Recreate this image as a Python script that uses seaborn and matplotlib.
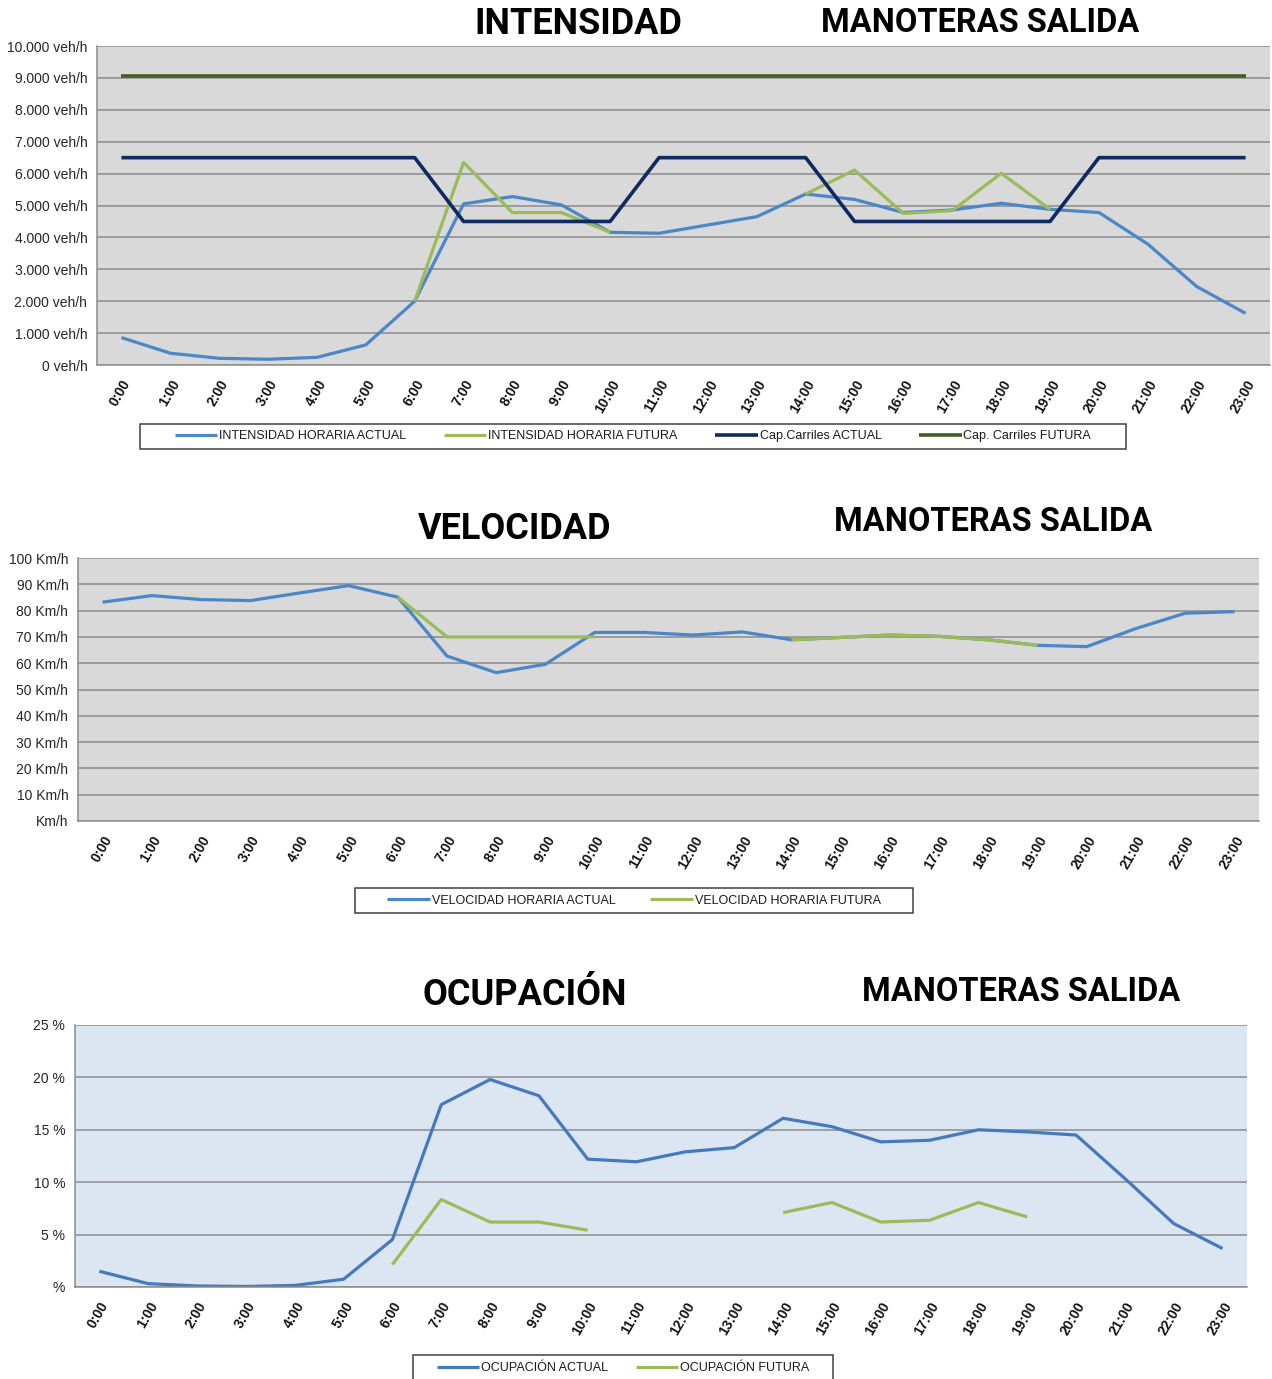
import numpy as np
import pandas as pd
import matplotlib
matplotlib.use('Agg')
import matplotlib.pyplot as plt
import seaborn as sns
from matplotlib import font_manager
from matplotlib.patches import Rectangle
from matplotlib.ticker import FixedLocator, FuncFormatter

# ---- datos ----
horas = [f"{h}:00" for h in range(24)]

intensidad_actual = [860, 370, 210, 180, 240, 630, 2000, 5050, 5280, 5020, 4160, 4130,
                     4390, 4650, 5360, 5190, 4780, 4860, 5070, 4880, 4780, 3790, 2460, 1620]
intensidad_futura = [np.nan] * 6 + [2000, 6350, 4780, 4780, 4160] + [np.nan] * 3 + \
                    [5360, 6110, 4750, 4840, 6010, 4880] + [np.nan] * 4
cap_actual = [6500] * 7 + [4500] * 4 + [6500] * 4 + [4500] * 5 + [6500] * 4
cap_futura = [9050] * 24

velocidad_actual = [83.2, 85.7, 84.2, 83.8, 86.7, 89.5, 85.1, 62.7, 56.4, 59.6, 71.7, 71.7,
                    70.7, 71.9, 68.9, 69.8, 70.7, 70.2, 68.9, 66.8, 66.3, 73.2, 79.0, 79.6]
velocidad_futura = [np.nan] * 6 + [85.1, 70.0, 70.0, 70.0, 70.0] + [np.nan] * 3 + \
                   [68.9, 69.8, 70.7, 70.2, 68.9, 66.8] + [np.nan] * 4

ocupacion_actual = [1.5, 0.32, 0.1, 0.05, 0.15, 0.74, 4.53, 17.4, 19.8, 18.25, 12.2, 11.95,
                    12.9, 13.3, 16.1, 15.3, 13.85, 14.0, 15.0, 14.8, 14.5, 10.35, 6.05, 3.67]
ocupacion_futura = [np.nan] * 6 + [2.14, 8.35, 6.2, 6.2, 5.42] + [np.nan] * 3 + \
                   [7.1, 8.06, 6.2, 6.37, 8.06, 6.69] + [np.nan] * 4

AZUL = '#4A86C8'
VERDE = '#9BBB59'
MARINO = '#0E2A5E'
VERDE_OSC = '#3F5F24'

sns.set_style('white')
plt.rcParams['font.family'] = ['Liberation Sans', 'DejaVu Sans']

nombres = {f.name for f in font_manager.fontManager.ttflist}
if 'Liberation Sans Narrow' in nombres:
    FUENTE_TIT, TAM_TIT, TAM_SUB = 'Liberation Sans Narrow', 28, 27
else:
    FUENTE_TIT, TAM_TIT, TAM_SUB = 'Roboto', 26, 23.5

W, H = 1272, 1379
fig = plt.figure(figsize=(W / 100, H / 100), dpi=100)


def px_axes(x0, y0, x1, y1):
    return fig.add_axes([x0 / W, 1 - y1 / H, (x1 - x0) / W, (y1 - y0) / H])


def linea(ax, valores, color, label, lw=2.3):
    """Dibuja una serie, cortándola donde hay NaN."""
    df = pd.DataFrame({'x': np.arange(24), 'y': valores})
    df['tramo'] = df['y'].isna().cumsum()
    df = df.dropna()
    primero = True
    for _, seg in df.groupby('tramo'):
        sns.lineplot(data=seg, x='x', y='y', ax=ax, color=color, lw=lw,
                     label=label if primero else None, legend=False,
                     solid_capstyle='butt')
        primero = False


def estilo(ax, fondo, ymax, paso, fmt):
    ax.set_facecolor(fondo)
    ax.set_xlim(-0.5, 23.5)
    ax.set_ylim(0, ymax)
    ax.yaxis.set_major_locator(FixedLocator(np.arange(0, ymax + paso / 2, paso)))
    ax.yaxis.set_major_formatter(FuncFormatter(fmt))
    ax.grid(axis='y', color='#8C8C8C', lw=1.1)
    ax.grid(axis='x', visible=False)
    ax.set_axisbelow(True)
    ax.xaxis.set_major_locator(FixedLocator(range(24)))
    ax.set_xticklabels(horas, rotation=60, ha='right', va='top',
                       rotation_mode='anchor', fontsize=10, fontweight='bold',
                       color='#111111')
    ax.xaxis.set_minor_locator(FixedLocator(np.arange(-0.5, 24, 1)))
    ax.tick_params(axis='x', which='major', length=0, pad=9)
    ax.tick_params(axis='x', which='minor', length=5, color='#8C8C8C', width=1)
    ax.tick_params(axis='y', length=4, color='#8C8C8C', labelsize=10,
                   labelcolor='#262626', pad=3)
    for s in ('top', 'right'):
        ax.spines[s].set_visible(False)
    for s in ('left', 'bottom'):
        ax.spines[s].set_color('#8C8C8C')
        ax.spines[s].set_linewidth(1.1)
    ax.set_xlabel('')
    ax.set_ylabel('')


def titulos(x1, x2, y1, y2, texto):
    fig.text(x1 / W, 1 - y1 / H, texto, ha='center', va='baseline', color='black',
             family=FUENTE_TIT, fontweight='bold', fontsize=TAM_TIT)
    fig.text(x2 / W, 1 - y2 / H, 'MANOTERAS SALIDA', ha='center', va='baseline',
             color='black', family=FUENTE_TIT, fontweight='bold', fontsize=TAM_SUB)


def leyenda(ax, x0, y0, x1, y1, ncol, sep):
    # marco dibujado aparte para que las entradas queden juntas como en Excel
    fig.patches.append(Rectangle((x0 / W, 1 - y1 / H), (x1 - x0) / W, (y1 - y0) / H,
                                 transform=fig.transFigure, fill=False,
                                 edgecolor='#404040', lw=1.1))
    h, l = ax.get_legend_handles_labels()
    fig.legend(h, l, loc='center',
               bbox_to_anchor=((x0 + x1) / 2 / W, 1 - (y0 + y1) / 2 / H),
               ncol=ncol, frameon=False, fontsize=9, handlelength=3.4,
               handletextpad=0.15, columnspacing=sep, borderpad=0,
               labelcolor='#1a1a1a')


# ---- INTENSIDAD ----
ax1 = px_axes(97, 46, 1270, 365)
linea(ax1, intensidad_actual, AZUL, 'INTENSIDAD HORARIA ACTUAL')
linea(ax1, intensidad_futura, VERDE, 'INTENSIDAD HORARIA FUTURA')
linea(ax1, cap_actual, MARINO, 'Cap.Carriles ACTUAL', lw=2.6)
linea(ax1, cap_futura, VERDE_OSC, 'Cap. Carriles FUTURA', lw=2.6)
estilo(ax1, '#D9D9D9', 10000, 1000,
       lambda v, p: f"{int(v):,}".replace(',', '.') + ' veh/h')
titulos(578, 980, 34, 32, 'INTENSIDAD')
leyenda(ax1, 140, 424, 1126, 449, 4, 3.0)

# ---- VELOCIDAD ----
ax2 = px_axes(78, 558, 1259, 821)
linea(ax2, velocidad_actual, AZUL, 'VELOCIDAD HORARIA ACTUAL')
linea(ax2, velocidad_futura, VERDE, 'VELOCIDAD HORARIA FUTURA')
estilo(ax2, '#D9D9D9', 100, 10,
       lambda v, p: 'Km/h' if v == 0 else f"{int(v)} Km/h")
titulos(515, 993, 539, 531, 'VELOCIDAD')
leyenda(ax2, 355, 888, 913, 913, 2, 2.8)

# ---- OCUPACIÓN ----
ax3 = px_axes(75, 1025, 1247, 1287)
linea(ax3, ocupacion_actual, '#4579BE', 'OCUPACIÓN ACTUAL')
linea(ax3, ocupacion_futura, VERDE, 'OCUPACIÓN FUTURA')
estilo(ax3, '#DCE6F2', 25, 5,
       lambda v, p: '%' if v == 0 else f"{int(v)} %")
titulos(525, 1021, 1005, 1001, 'OCUPACIÓN')
leyenda(ax3, 413, 1355, 833, 1381, 2, 2.2)

fig.savefig('out.png', dpi=100)
